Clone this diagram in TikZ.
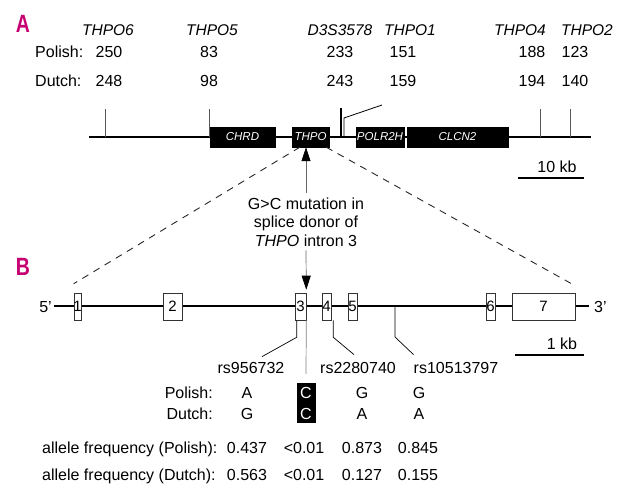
\documentclass[tikz,border=0pt]{standalone}
\usepackage{fontspec}
\setmainfont{Liberation Sans}
\usetikzlibrary{arrows.meta}
\definecolor{panelmag}{RGB}{198,0,114}

\begin{document}
\begin{tikzpicture}[x=1pt, y=-1pt,
  txt/.style={inner sep=0pt, anchor=base, font=\fontsize{16}{18.5}\selectfont},
  loc/.style={txt, font=\fontsize{15.5}{18.5}\selectfont\itshape},
  panel/.style={inner sep=0pt, text=panelmag, font=\fontsize{25}{25}\selectfont\bfseries},
  gene/.style={draw, fill=black, text=white, minimum height=20pt, inner sep=0pt,
               font=\fontsize{11.5}{12}\selectfont\itshape},
  exon/.style={draw=black!80, line width=0.6pt, fill=white, minimum height=27pt, inner sep=0pt},
  exnum/.style={inner sep=0pt, font=\fontsize{15}{15}\selectfont},
  chrom/.style={line width=2.4pt},
  tick/.style={draw=black!65, line width=0.8pt},
  zoomln/.style={dash pattern=on 7pt off 6pt, line width=0.9pt, black!85},
  ptr/.style={draw=black!60, line width=0.7pt, -{Triangle[length=14pt, width=9pt, black]}},
  snp/.style={line width=0.7pt},
  bar/.style={line width=2.6pt},
]
\useasboundingbox (0,0) rectangle (621,484);

% --- A: markers and repeat lengths ---
\node[panel] (pa) at (23,23.5) {\scalebox{0.78}[1]{A}};
\foreach \x/\m in {108/THPO6, 212/THPO5, 340/D3S3578, 410/THPO1, 520/THPO4, 587/THPO2}
  \node[loc] (m\x) at (\x,36) {\m};
\node[txt, anchor=base west] (polA) at (35,58) {Polish:};
\node[txt, anchor=base west] (dutA) at (35,87) {Dutch:};
\foreach \x/\p/\d in {109/250/248, 209/83/98, 340/233/243, 403/151/159, 532/188/194, 575/123/140} {
  \node[txt] (pa\x) at (\x,58) {\p};
  \node[txt] (da\x) at (\x,87) {\d};
}

% --- A: chromosome line ---
\coordinate (a0) at (89,137);
\coordinate (a1) at (591,137);
\draw[chrom] (a0) -- (a1);
\foreach \x in {105,209,540,570} { \draw[tick] (\x,137) -- (\x,109); }
\draw[tick, draw=black, line width=1.2pt] (341,137) -- (341,108);
\coordinate (t1) at (382,105);
\draw[tick, draw=black] (344,137) -- (344,118) -- (t1);
\node[gene, minimum width=65pt] (chrd) at (242.5,137) {CHRD};
\node[gene, minimum width=37pt] (thpo) at (310.5,137) {THPO};
\node[gene, minimum width=48pt] (polr) at (380,137) {POLR2H};
\node[gene, minimum width=101pt] (clcn) at (457.5,137) {CLCN2};
\node[txt] (kb10) at (557,172) {10 kb};
\draw[bar] (518,178) -- (584,178);

% --- mutation (base = last line) ---
\node[txt, align=center, inner ysep=4pt] (mut) at (306,246)
  {G>C mutation in\\splice donor of\\\textit{THPO} intron 3};

% --- B: exons ---
\node[panel] (pb) at (23,266.5) {\scalebox{0.78}[1]{B}};
\node[txt, anchor=base east] (p5) at (52,312) {5'};
\node[txt, anchor=base west] (p3) at (594,312) {3'};
\coordinate (b0) at (54,306);
\coordinate (bm) at (410,306);
\coordinate (b1) at (589,306);
\draw[chrom] (b0) -- (bm);
\draw[line width=1.6pt] (bm) -- (b1);
\foreach \n/\x/\w in {1/77.5/7, 2/172.5/19, 3/300.5/11, 4/326.5/9, 5/352.5/9, 6/490.5/9, 7/543.5/63}
  \node[exon, minimum width=\w*1pt, label={[exnum]center:\n}] (ex\n) at (\x,306.5) {};
\node[txt] (kb1) at (562,349) {1 kb};
\draw[bar] (515,355) -- (584,355);

% --- zoom lines and arrows ---
\draw[zoomln] ([xshift=8pt]thpo.south west) -- ([yshift=9pt]ex1.north west);
\draw[zoomln] ([xshift=-3pt]thpo.south east) -- ([xshift=-2pt,yshift=8pt]ex7.north east);
\draw[ptr] (mut.north) -- (mut.north |- thpo.south);
\draw[ptr] (mut.south) -- ([yshift=3pt]ex3.north east);

% --- SNPs ---
\node[txt] (rs1) at (251,373) {rs956732};
\node[txt] (rs2) at (358,373) {rs2280740};
\node[txt] (rs3) at (456,373) {rs10513797};
\coordinate (s3) at (395,306);
\draw[snp] ([xshift=2pt]ex3.south west) -- ++(0,17) -- ([xshift=11pt,yshift=5pt]rs1.north);
\draw[snp] ([xshift=2pt]ex4.south east) -- ++(0,17) -- ([xshift=-4pt,yshift=7pt]rs2.north);
\draw[snp] (s3) -- ++(0,31) -- ([yshift=7pt]rs3.north west);

% --- genotypes ---
\node[fill=black, minimum width=19pt, minimum height=40pt, inner sep=0pt] (cbox) at (306,403) {};
\draw[draw=black!50, line width=0.7pt] (ex3.south east) -- ([yshift=9pt]cbox.north);
\node[txt, anchor=base east] (polB) at (213,398) {Polish:};
\node[txt, anchor=base east] (dutB) at (213,419) {Dutch:};
\foreach \x/\p/\d in {247/A/G, 362/G/A, 419/G/A} {
  \node[txt] (pg\x) at (\x,398) {\p};
  \node[txt] (dg\x) at (\x,419) {\d};
}
\node[txt, text=white] (pgC) at (306,398) {C};
\node[txt, text=white] (dgC) at (306,419) {C};

% --- allele frequencies ---
\node[txt, anchor=base west] (afP) at (42,453) {allele frequency (Polish):};
\node[txt, anchor=base west] (afD) at (42,480) {allele frequency (Dutch):};
\foreach \x/\p/\d in {247/0.437/0.563, 304/{<0.01}/{<0.01}, 362/0.873/0.127, 418/0.845/0.155} {
  \node[txt] (pf\x) at (\x,453) {\p};
  \node[txt] (df\x) at (\x,480) {\d};
}
\end{tikzpicture}
\end{document}
